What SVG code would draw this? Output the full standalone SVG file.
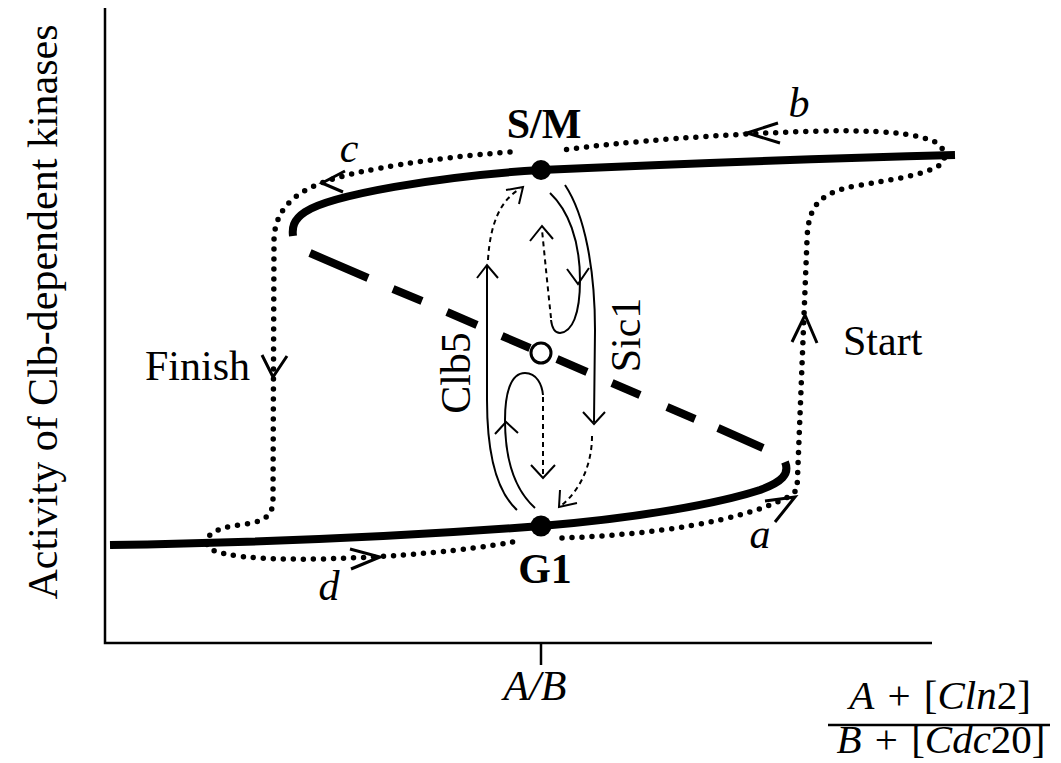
<svg xmlns="http://www.w3.org/2000/svg" width="1061" height="763" viewBox="0 0 1061 763">
<style>
.ax{fill:none;stroke:#000;stroke-width:2.5}
.thick{fill:none;stroke:#000;stroke-width:8}
.unst{fill:none;stroke:#000;stroke-width:8}
.traj{fill:none;stroke:#000;stroke-width:5.5;stroke-dasharray:0 10;stroke-linecap:round}
.chevb{fill:none;stroke:#000;stroke-width:3;stroke-linejoin:miter}
.thin{fill:none;stroke:#000;stroke-width:2}
.tdash{fill:none;stroke:#000;stroke-width:2;stroke-dasharray:5 4}
.chev{fill:none;stroke:#000;stroke-width:2}
text{font-family:'Liberation Serif','Times New Roman',serif;fill:#000}
.lab{font-size:42px}
.fr{font-size:41px;word-spacing:3px}
.b{font-weight:bold}
.i{font-style:italic}
</style>
<g id="axes">
<path class="ax" d="M105,8 V643 H932"/>
<path class="ax" d="M541,643 V665"/>
<text class="lab" transform="translate(57,312) rotate(-90)" text-anchor="middle">Activity of Clb-dependent kinases</text>
<text class="lab i" x="535" y="700" text-anchor="middle">A/B</text>
<text class="fr" x="940" y="709" text-anchor="middle"><tspan class="i">A</tspan> + [<tspan class="i">Cln</tspan>2]</text>
<path class="ax" d="M828,725 H1050"/>
<text class="fr" x="941" y="753" text-anchor="middle"><tspan class="i">B</tspan> + [<tspan class="i">Cdc</tspan>20]</text>
</g>
<g id="curve">
<path class="thick" d="M110,545 C300,542 450,533 541,526 C640,518 720,503 760,490 C782,482 790,474 785,462"/>
<path class="thick" d="M955,155 C800,159 650,165 541,170 C440,176 330,195 305,212 C293,220 292,228 293,236"/>
<path class="unst" d="M310,253 L368,278 M393,289 L422,301 M447,312 L477,325 M502,336 L530,348 M557,359 L587,372 M612,383 L640,395 M667,407 L695,419 M718,428 L763,448"/>
</g>
<g id="SM"><circle cx="541" cy="170" r="10" fill="#000"/><text class="lab b" x="544" y="138" text-anchor="middle">S/M</text></g>
<g id="G1"><circle cx="541" cy="526" r="10.5" fill="#000"/><text class="lab b" x="545" y="583" text-anchor="middle">G1</text></g>
<g id="saddle"><circle cx="541" cy="353" r="10" fill="#fff" stroke="#000" stroke-width="3"/></g>
<g id="trajectory">
<path class="traj" d="M510,152 C430,158 360,170 330,180 C300,190 275,205 274,240 L273,500 C273,518 262,522 240,525 C215,528 205,535 207,545 C210,556 260,560 320,559 C400,557 470,550 513,542"/>
<path class="traj" d="M562,538 C650,535 740,522 788,497 L797,490 L807,240 C808,205 820,193 855,186 C890,180 925,175 940,165 C948,158 945,148 935,142 C915,133 880,130 820,131 C720,134 620,142 563,150"/>
<path class="chevb" d="M765,501 L795,497 L775,522"/>
<path class="chevb" d="M792,342 L805,315 L817,343"/>
<path class="chevb" d="M778,123 L747,133 L780,143"/>
<path class="chevb" d="M345,171 L322,183 L343,192"/>
<path class="chevb" d="M262,355 L273,377 L287,356"/>
<path class="chevb" d="M350,549 L380,557 L351,569"/>
<text class="lab i" x="760" y="548" text-anchor="middle">a</text>
<text class="lab i" x="799" y="117" text-anchor="middle">b</text>
<text class="lab i" x="349" y="162" text-anchor="middle">c</text>
<text class="lab i" x="329" y="600" text-anchor="middle">d</text>
<text class="lab" x="145" y="380">Finish</text>
<text class="lab" x="843" y="355">Start</text>
</g>
<g id="inner">
<path class="thin" d="M517,510 C495,490 487,450 487,400 L487,266"/>
<path class="chev" d="M477,278 L487,265 L498,278"/>
<path class="tdash" d="M488,260 C490,225 500,200 520,189"/>
<path class="chev" d="M506,190 L523,187 L519,204"/>
<path class="thin" d="M550,193 C568,210 580,240 580,280 C580,315 572,332 560,333 C555,333 552,328 551,320"/>
<path class="chev" d="M567,269 L578,284 L589,268"/>
<path class="tdash" d="M551,318 C548,290 545,260 542,230"/>
<path class="chev" d="M530,241 L542,226 L553,239"/>
<path class="thin" d="M565,185 C585,215 595,270 595,330 L594,422"/>
<path class="chev" d="M583,412 L594,424 L605,412"/>
<path class="tdash" d="M592,436 C592,465 580,490 562,505"/>
<path class="chev" d="M560,490 L559,507 L577,503"/>
<path class="thin" d="M535,508 C515,490 505,460 505,420 C505,395 510,373 525,373 C537,373 542,385 543,395"/>
<path class="chev" d="M495,434 L506,422 L518,433"/>
<path class="tdash" d="M543,397 L543,476"/>
<path class="chev" d="M531,465 L543,478 L555,465"/>
<text class="lab" transform="translate(470,373) rotate(-90)" text-anchor="middle">Clb5</text>
<text class="lab" transform="translate(640,335) rotate(-90)" text-anchor="middle">Sic1</text>
</g>
</svg>
